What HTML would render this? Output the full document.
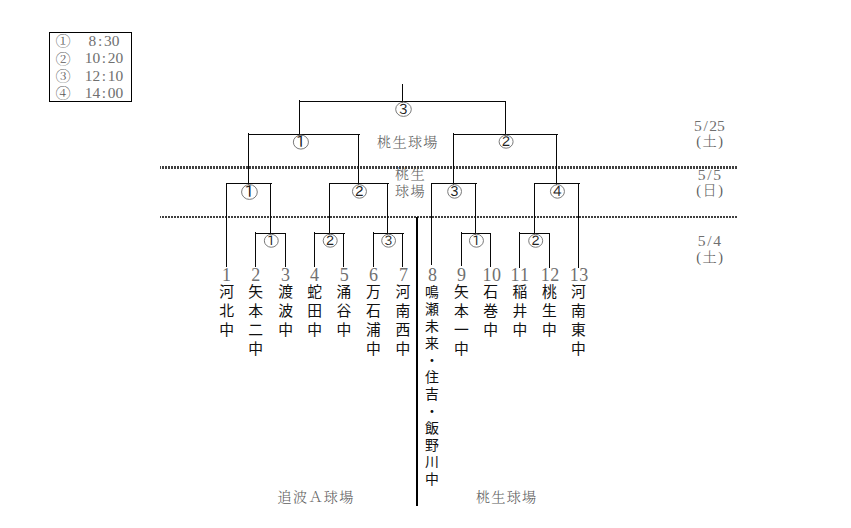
<!DOCTYPE html>
<html lang="ja">
<head>
<meta charset="utf-8">
<title>トーナメント表</title>
<style>
html,body{margin:0;padding:0;background:#fff;}
body{width:851px;height:528px;overflow:hidden;}
svg{display:block;}
.m{font-family:'Liberation Serif','Noto Serif CJK SC',serif;font-size:14.2px;fill:#5e5e5e;font-weight:300;}
.g{font-family:'Liberation Sans','Noto Sans CJK JP',sans-serif;font-size:14.8px;fill:#111;}
.g8{font-family:'Liberation Sans','Noto Sans CJK JP',sans-serif;font-size:13.9px;fill:#111;}
.d{font-family:'Liberation Serif','Noto Serif CJK SC',serif;font-size:18px;fill:#707070;}
.c{font-family:'IPAPGothic','IPAGothic','Liberation Sans',sans-serif;font-size:11.5px;fill:#222;}
</style>
</head>
<body>
<svg width="851" height="528" viewBox="0 0 851 528">
<rect x="0" y="0" width="851" height="528" fill="#fff"/>
<defs>
<pattern id="dots" x="159" y="0" width="3" height="4" patternUnits="userSpaceOnUse"><rect x="0" y="0" width="2" height="4" fill="#404040"/></pattern>
</defs>
<rect x="49.5" y="32.5" width="82" height="69" fill="none" stroke="#000" stroke-width="1"/>
<text class="m" style="font-size:15.2px;fill:#5a5a5a" transform="translate(63.2,40.8) scale(1,0.9)" x="0" y="5.9" text-anchor="middle">①</text>
<text class="d" style="font-size:15.4px" text-anchor="middle" x="92.45 100.15 107.85 115.55" y="46.0">8:30</text>
<text class="m" style="font-size:15.2px;fill:#5a5a5a" transform="translate(63.2,58.2) scale(1,0.9)" x="0" y="5.9" text-anchor="middle">②</text>
<text class="d" style="font-size:15.4px" text-anchor="middle" x="88.60 96.30 104.00 111.70 119.40" y="63.4">10:20</text>
<text class="m" style="font-size:15.2px;fill:#5a5a5a" transform="translate(63.2,75.6) scale(1,0.9)" x="0" y="5.9" text-anchor="middle">③</text>
<text class="d" style="font-size:15.4px" text-anchor="middle" x="88.60 96.30 104.00 111.70 119.40" y="80.8">12:10</text>
<text class="m" style="font-size:15.2px;fill:#5a5a5a" transform="translate(63.2,93.0) scale(1,0.9)" x="0" y="5.9" text-anchor="middle">④</text>
<text class="d" style="font-size:15.4px" text-anchor="middle" x="88.60 96.30 104.00 111.70 119.40" y="98.2">14:00</text>
<rect x="160" y="166" width="577" height="3" fill="url(#dots)"/>
<rect x="160" y="216" width="577" height="2" fill="url(#dots)"/>
<rect x="402" y="84" width="1" height="18.8" fill="#080808"/>
<rect x="299" y="101" width="207" height="1" fill="#080808"/>
<rect x="299" y="100" width="1" height="35.8" fill="#080808"/>
<rect x="505" y="101" width="1" height="34.8" fill="#080808"/>
<rect x="248" y="134" width="112" height="1" fill="#080808"/>
<rect x="248" y="133" width="1" height="51.8" fill="#080808"/>
<rect x="358" y="134" width="1" height="50.8" fill="#080808"/>
<rect x="453" y="134" width="105" height="1" fill="#080808"/>
<rect x="453" y="133" width="1" height="51.8" fill="#080808"/>
<rect x="556" y="134" width="1" height="50.8" fill="#080808"/>
<rect x="226" y="183" width="46" height="1" fill="#080808"/>
<rect x="226" y="183" width="1" height="84" fill="#080808"/>
<rect x="270" y="183" width="1" height="51.8" fill="#080808"/>
<rect x="329" y="183" width="60" height="1" fill="#080808"/>
<rect x="329" y="183" width="1" height="51.8" fill="#080808"/>
<rect x="387" y="183" width="1" height="51.8" fill="#080808"/>
<rect x="431" y="183" width="46" height="1" fill="#080808"/>
<rect x="431" y="183" width="1" height="82" fill="#080808"/>
<rect x="475" y="183" width="1" height="51.8" fill="#080808"/>
<rect x="534" y="183" width="46" height="1" fill="#080808"/>
<rect x="534" y="183" width="1" height="51.8" fill="#080808"/>
<rect x="578" y="183" width="1" height="85" fill="#080808"/>
<rect x="255" y="233" width="31" height="1" fill="#080808"/>
<rect x="255" y="232" width="1" height="35" fill="#080808"/>
<rect x="285" y="233" width="1" height="34" fill="#080808"/>
<rect x="314" y="233" width="31" height="1" fill="#080808"/>
<rect x="314" y="232" width="1" height="35" fill="#080808"/>
<rect x="343" y="233" width="1" height="34" fill="#080808"/>
<rect x="373" y="233" width="31" height="1" fill="#080808"/>
<rect x="373" y="232" width="1" height="35" fill="#080808"/>
<rect x="402" y="233" width="1" height="34" fill="#080808"/>
<rect x="461" y="233" width="30" height="1" fill="#080808"/>
<rect x="461" y="232" width="1" height="34" fill="#080808"/>
<rect x="490" y="233" width="1" height="34" fill="#080808"/>
<rect x="519" y="233" width="31" height="1" fill="#080808"/>
<rect x="519" y="232" width="1" height="36" fill="#080808"/>
<rect x="549" y="233" width="1" height="35" fill="#080808"/>
<rect x="416" y="217" width="2" height="289" fill="#000"/>
<ellipse cx="403.50" cy="109.30" rx="7.80" ry="7.10" fill="none" stroke="#7a7a7a" stroke-width="1"/>
<text class="c" style="font-size:14.0px" x="403.40" y="114.18" text-anchor="middle">3</text>
<ellipse cx="300.90" cy="142.10" rx="7.55" ry="7.00" fill="none" stroke="#7a7a7a" stroke-width="1"/>
<text class="c" style="font-size:15.6px" x="300.65" y="147.29" text-anchor="middle">1</text>
<ellipse cx="506.10" cy="141.70" rx="7.00" ry="6.50" fill="none" stroke="#7a7a7a" stroke-width="1"/>
<text class="c" style="font-size:13.3px" x="506.00" y="146.32" text-anchor="middle">2</text>
<ellipse cx="249.45" cy="192.00" rx="7.85" ry="7.40" fill="none" stroke="#7a7a7a" stroke-width="1"/>
<text class="c" style="font-size:16.0px" x="249.20" y="197.34" text-anchor="middle">1</text>
<ellipse cx="359.45" cy="191.45" rx="7.00" ry="6.75" fill="none" stroke="#7a7a7a" stroke-width="1"/>
<text class="c" style="font-size:13.6px" x="359.35" y="196.18" text-anchor="middle">2</text>
<ellipse cx="454.60" cy="191.45" rx="6.90" ry="6.75" fill="none" stroke="#7a7a7a" stroke-width="1"/>
<text class="c" style="font-size:13.6px" x="454.50" y="196.18" text-anchor="middle">3</text>
<ellipse cx="557.45" cy="191.45" rx="7.00" ry="6.75" fill="none" stroke="#7a7a7a" stroke-width="1"/>
<text class="c" style="font-size:13.6px" x="557.35" y="196.18" text-anchor="middle">4</text>
<ellipse cx="271.30" cy="240.80" rx="6.95" ry="6.45" fill="none" stroke="#7a7a7a" stroke-width="1"/>
<text class="c" style="font-size:12.8px" x="271.05" y="244.93" text-anchor="middle">1</text>
<ellipse cx="330.20" cy="240.70" rx="7.00" ry="6.50" fill="none" stroke="#7a7a7a" stroke-width="1"/>
<text class="c" style="font-size:12.8px" x="330.10" y="245.13" text-anchor="middle">2</text>
<ellipse cx="388.60" cy="240.70" rx="6.90" ry="6.50" fill="none" stroke="#7a7a7a" stroke-width="1"/>
<text class="c" style="font-size:12.8px" x="388.50" y="245.13" text-anchor="middle">3</text>
<ellipse cx="476.45" cy="240.70" rx="7.00" ry="6.50" fill="none" stroke="#7a7a7a" stroke-width="1"/>
<text class="c" style="font-size:12.8px" x="476.20" y="244.83" text-anchor="middle">1</text>
<ellipse cx="535.70" cy="240.80" rx="7.00" ry="6.50" fill="none" stroke="#7a7a7a" stroke-width="1"/>
<text class="c" style="font-size:12.8px" x="535.60" y="245.23" text-anchor="middle">2</text>
<text class="d" style="font-size:15.6px" text-anchor="middle" x="697.85 705.55 713.25 720.95" y="131.2">5/25</text>
<text class="m" text-anchor="middle" x="698.50 709.70 720.60" y="146.0">(土)</text>
<text class="d" style="font-size:15.6px" text-anchor="middle" x="701.70 709.40 717.10" y="180.0">5/5</text>
<text class="m" text-anchor="middle" x="698.50 709.70 720.60" y="195.2">(日)</text>
<text class="d" style="font-size:15.6px" text-anchor="middle" x="701.70 709.40 717.10" y="246.2">5/4</text>
<text class="m" text-anchor="middle" x="698.50 709.70 720.60" y="262.3">(土)</text>
<text class="m" text-anchor="middle" x="384.20 399.60 415.00 430.40" y="146.6">桃生球場</text>
<text class="m" text-anchor="middle" x="402.20 417.60" y="178.7">桃生</text>
<text class="m" text-anchor="middle" x="402.20 417.60" y="196.2">球場</text>
<text class="m" text-anchor="middle" x="284.70 300.10 315.50 330.90 346.30" y="501.7">追波Ａ球場</text>
<text class="m" text-anchor="middle" x="483.00 498.40 513.80 529.20" y="501.7">桃生球場</text>
<text class="d" text-anchor="middle" x="226.50" y="281.0">1</text>
<text class="g" text-anchor="middle" x="226.7 226.7 226.7" y="296.90 315.97 335.04">河北中</text>
<text class="d" text-anchor="middle" x="255.70" y="281.0">2</text>
<text class="g" text-anchor="middle" x="255.7 255.7 255.7 255.7" y="296.90 315.97 335.04 354.11">矢本二中</text>
<text class="d" text-anchor="middle" x="285.50" y="281.0">3</text>
<text class="g" text-anchor="middle" x="285.6 285.6 285.6" y="296.90 315.97 335.04">渡波中</text>
<text class="d" text-anchor="middle" x="314.40" y="281.0">4</text>
<text class="g" text-anchor="middle" x="314.6 314.6 314.6" y="296.90 315.97 335.04">蛇田中</text>
<text class="d" text-anchor="middle" x="344.20" y="281.0">5</text>
<text class="g" text-anchor="middle" x="343.9 343.9 343.9" y="296.90 315.97 335.04">涌谷中</text>
<text class="d" text-anchor="middle" x="373.40" y="281.0">6</text>
<text class="g" text-anchor="middle" x="373.5 373.5 373.5 373.5" y="296.90 315.97 335.04 354.11">万石浦中</text>
<text class="d" text-anchor="middle" x="403.50" y="281.0">7</text>
<text class="g" text-anchor="middle" x="402.8 402.8 402.8 402.8" y="296.90 315.97 335.04 354.11">河南西中</text>
<text class="d" text-anchor="middle" x="432.40" y="281.0">8</text>
<text class="g8" text-anchor="middle" x="432.0 432.0 432.0 432.0 432.0 432.0 432.0 432.0 432.0 432.0 432.0 432.0" y="296.60 313.60 330.60 347.60 364.60 381.60 398.60 415.60 432.60 449.60 466.60 483.60">鳴瀬未来・住吉・飯野川中</text>
<text class="d" text-anchor="middle" x="461.40" y="281.0">9</text>
<text class="g" text-anchor="middle" x="461.5 461.5 461.5 461.5" y="296.90 315.97 335.04 354.11">矢本一中</text>
<text class="d" text-anchor="middle" x="487.00 496.40" y="281.0">10</text>
<text class="g" text-anchor="middle" x="490.6 490.6 490.6" y="296.90 315.97 335.04">石巻中</text>
<text class="d" text-anchor="middle" x="515.10 524.50" y="281.0">11</text>
<text class="g" text-anchor="middle" x="519.9 519.9 519.9" y="296.90 315.97 335.04">稲井中</text>
<text class="d" text-anchor="middle" x="545.30 554.70" y="281.0">12</text>
<text class="g" text-anchor="middle" x="549.5 549.5 549.5" y="296.90 315.97 335.04">桃生中</text>
<text class="d" text-anchor="middle" x="574.30 583.70" y="281.0">13</text>
<text class="g" text-anchor="middle" x="578.5 578.5 578.5 578.5" y="296.90 315.97 335.04 354.11">河南東中</text>
</svg>
</body>
</html>
